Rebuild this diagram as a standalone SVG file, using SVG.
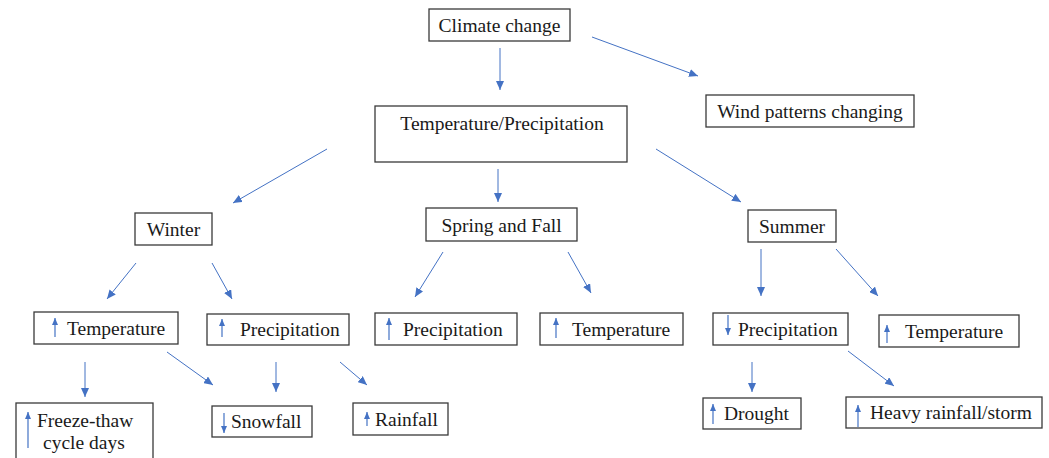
<svg xmlns="http://www.w3.org/2000/svg" width="1049" height="458" viewBox="0 0 1049 458">
<defs>
<style>
.box{fill:#fff;stroke:#3a3a3a;stroke-width:1.3}
.t{font-family:'Liberation Serif','Times New Roman','DejaVu Serif',serif;font-size:19.5px;fill:#1a1a1a}
.c{text-anchor:middle}
.con{stroke:#4472C4;stroke-width:1;fill:none;marker-end:url(#ah)}
.ind{stroke:#4472C4;stroke-width:1.2;fill:none;marker-end:url(#ahs)}
</style>
<marker id="ah" markerUnits="userSpaceOnUse" markerWidth="9" markerHeight="8" refX="9" refY="4" orient="auto"><path d="M0,0 L9,4 L0,8 z" fill="#4472C4"/></marker>
<marker id="ahs" markerUnits="userSpaceOnUse" markerWidth="7" markerHeight="6" refX="7" refY="3" orient="auto"><path d="M0,0 L7,3 L0,6 z" fill="#4472C4"/></marker>
</defs>
<rect width="1049" height="458" fill="#fff"/>
<g id="connectors">
<line class="con" x1="500" y1="48" x2="500" y2="90"/>
<line class="con" x1="592" y1="37" x2="698" y2="76"/>
<line class="con" x1="327" y1="149" x2="233" y2="203"/>
<line class="con" x1="498" y1="169" x2="498" y2="202"/>
<line class="con" x1="656" y1="149" x2="741" y2="202"/>
<line class="con" x1="136" y1="263" x2="107" y2="299"/>
<line class="con" x1="212" y1="263" x2="232" y2="299"/>
<line class="con" x1="443" y1="252" x2="415" y2="297"/>
<line class="con" x1="568" y1="252" x2="591" y2="293"/>
<line class="con" x1="761" y1="249" x2="761" y2="296"/>
<line class="con" x1="836" y1="249" x2="878" y2="296"/>
<line class="con" x1="85" y1="362" x2="85" y2="397"/>
<line class="con" x1="167" y1="352" x2="213" y2="385"/>
<line class="con" x1="276" y1="362" x2="276" y2="392"/>
<line class="con" x1="340" y1="362" x2="367" y2="385"/>
<line class="con" x1="752" y1="362" x2="752" y2="392"/>
<line class="con" x1="848" y1="351" x2="894" y2="386"/>
</g>
<g id="n-climate"><rect class="box" x="429" y="9" width="141" height="32"/><text class="t c" x="499.5" y="31.5">Climate change</text></g>
<g id="n-wind"><rect class="box" x="706" y="95" width="208" height="32"/><text class="t c" x="810" y="117.5">Wind patterns changing</text></g>
<g id="n-tp"><rect class="box" x="375" y="106" width="252" height="56"/><text class="t c" x="502" y="130">Temperature/Precipitation</text></g>
<g id="n-winter"><rect class="box" x="135" y="213" width="77" height="32"/><text class="t c" x="173.5" y="235.5">Winter</text></g>
<g id="n-spring"><rect class="box" x="426" y="208" width="151" height="33"/><text class="t c" x="501.5" y="231.5">Spring and Fall</text></g>
<g id="n-summer"><rect class="box" x="748" y="210" width="88" height="32"/><text class="t c" x="792" y="232.5">Summer</text></g>
<g id="n-w-temp"><rect class="box" x="34" y="312" width="144" height="32"/><line class="ind" x1="55" y1="337" x2="55" y2="318"/><text class="t" x="67" y="334.5">Temperature</text></g>
<g id="n-w-prec"><rect class="box" x="207" y="314" width="142" height="31"/><line class="ind" x1="222" y1="337" x2="222" y2="319"/><text class="t" x="240" y="336">Precipitation</text></g>
<g id="n-s-prec"><rect class="box" x="375" y="313" width="142" height="32"/><line class="ind" x1="389" y1="340" x2="389" y2="318"/><text class="t" x="403" y="335.5">Precipitation</text></g>
<g id="n-s-temp"><rect class="box" x="540" y="313" width="143" height="32"/><line class="ind" x1="556" y1="338" x2="556" y2="318"/><text class="t" x="572" y="335.5">Temperature</text></g>
<g id="n-su-prec"><rect class="box" x="713" y="313" width="135" height="32"/><line class="ind" x1="728" y1="315" x2="728" y2="335"/><text class="t" x="738" y="335.5">Precipitation</text></g>
<g id="n-su-temp"><rect class="box" x="879" y="315" width="140" height="32"/><line class="ind" x1="887" y1="343" x2="887" y2="325"/><text class="t" x="905" y="337.5">Temperature</text></g>
<g id="n-freeze"><rect class="box" x="16" y="403" width="137" height="60"/><line class="ind" x1="28" y1="448" x2="28" y2="412"/><text class="t" x="37" y="427">Freeze-thaw</text><text class="t" x="43" y="449">cycle days</text></g>
<g id="n-snow"><rect class="box" x="212" y="406" width="100" height="31"/><line class="ind" x1="224" y1="413" x2="224" y2="433"/><text class="t" x="231" y="428">Snowfall</text></g>
<g id="n-rain"><rect class="box" x="353" y="403" width="95" height="32"/><line class="ind" x1="367" y1="426" x2="367" y2="412"/><text class="t" x="375" y="425.5">Rainfall</text></g>
<g id="n-drought"><rect class="box" x="703" y="398" width="98" height="31"/><line class="ind" x1="713" y1="424" x2="713" y2="404"/><text class="t" x="724" y="420">Drought</text></g>
<g id="n-heavy"><rect class="box" x="846" y="397" width="196" height="31"/><line class="ind" x1="858" y1="427" x2="858" y2="405"/><text class="t" x="870" y="419">Heavy rainfall/storm</text></g>
</svg>
